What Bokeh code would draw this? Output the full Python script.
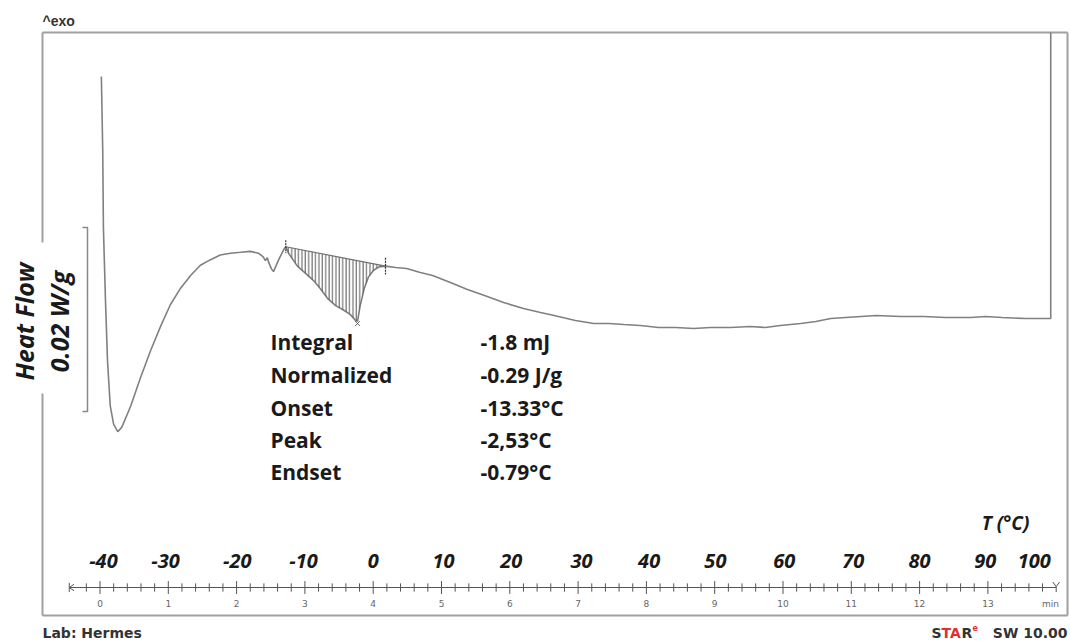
import numpy as np
from bokeh.plotting import figure
from bokeh.models import Range1d
from bokeh.core.properties import value
from bokeh.embed import file_html
from bokeh.resources import INLINE

# ---------------- data ----------------
time_min = [0.02, 0.04, 0.05, 0.08, 0.11, 0.15, 0.20, 0.26, 0.32, 0.45, 0.59, 0.74,
            0.89, 1.03, 1.18, 1.33, 1.47, 1.62, 1.76, 1.91, 2.06, 2.20, 2.32, 2.39,
            2.42, 2.45, 2.47, 2.51, 2.54, 2.61, 2.69, 2.72,
            2.76, 2.89, 3.01, 3.13, 3.23, 3.33, 3.45, 3.57, 3.67, 3.74, 3.77,
            3.81, 3.87, 3.93, 4.00, 4.08, 4.18,
            4.33, 4.49, 4.69, 4.87, 5.13, 5.38, 5.63, 5.91, 6.20, 6.45, 6.65, 6.96,
            7.23, 7.45, 7.67, 7.91, 8.18, 8.43, 8.69, 8.94, 9.23, 9.52, 9.74, 9.96,
            10.26, 10.48, 10.70, 10.92, 11.14, 11.37, 11.72, 12.06, 12.38, 12.75,
            12.97, 13.21, 13.55, 13.92, 13.92]
heat_flow_mWg = [27.6, 19.6, 11.2, 3.3, -3.3, -8.2, -10.2, -11.0, -10.5, -8.2, -5.2, -2.2,
                 0.5, 2.8, 4.6, 6.0, 7.1, 7.7, 8.2, 8.4, 8.5, 8.6, 8.4, 8.0,
                 7.6, 7.9, 7.4, 6.7, 6.4, 7.6, 8.8, 9.1,
                 8.4, 7.0, 6.2, 5.4, 4.5, 3.5, 2.7, 2.2, 1.7, 1.1, 1.0,
                 2.7, 4.6, 5.8, 6.5, 6.9, 7.0,
                 6.85, 6.74, 6.30, 5.98, 5.22, 4.46, 3.80, 3.04, 2.39, 1.96, 1.63, 1.09,
                 0.76, 0.76, 0.65, 0.54, 0.33, 0.33, 0.22, 0.33, 0.33, 0.43, 0.33, 0.54,
                 0.76, 0.98, 1.30, 1.41, 1.52, 1.63, 1.52, 1.52, 1.41, 1.41,
                 1.52, 1.41, 1.30, 1.30, 32.4]
onset_idx = 31
peak_idx = 42
endset_idx = 48

scale_bar_mWg = 20          # 0.02 W/g
scale_bar_top = 11.2

result_names = ["Integral", "Normalized", "Onset", "Peak", "Endset"]
result_values = ["-1.8 mJ", "-0.29 J/g", "-13.33°C", "-2,53°C", "-0.79°C"]

temp_labels = ["-40", "-30", "-20", "-10", "0", "10", "20", "30", "40", "50",
               "60", "70", "80", "90", "100"]
temp_label_time = [0.05, 0.96, 2.01, 2.98, 4.00, 5.03, 6.02, 7.05, 8.04, 9.01,
                   10.02, 11.03, 12.00, 12.96, 13.68]

time_ticks = list(range(0, 14))
time_tick_labels = [str(t) for t in time_ticks]

# ---------------- geometry ----------------
W, H = 1070, 642
PX_PER_MIN = 68.3
PX_PER_UNIT = 9.2
X0 = -99.5 / PX_PER_MIN
Y0 = (330 - H) / PX_PER_UNIT


def tx(page_x):
    return X0 + page_x / PX_PER_MIN


def ty(page_y):
    return Y0 + (H - page_y) / PX_PER_UNIT


p = figure(width=W, height=H, output_backend="svg", toolbar_location=None,
           x_range=Range1d(X0, X0 + W / PX_PER_MIN),
           y_range=Range1d(Y0, Y0 + H / PX_PER_UNIT),
           x_axis_location=None, y_axis_location=None, min_border=0)
p.grid.visible = False
p.outline_line_color = None
p.background_fill_color = "white"
p.border_fill_color = "white"

frame_col = "#a0a0a0"
L, R, T, B = tx(42), tx(1067), ty(32), ty(615)
p.multi_line(xs=[[L, R], [R, R], [R, L], [L, L], [L, L]],
             ys=[[T, T], [T, B], [B, B], [B, ty(393)], [ty(242), T]],
             line_color=frame_col, line_width=2)

# curve
p.line(time_min, heat_flow_mWg, line_color="#808080", line_width=1.6)

# hatched integration area
px_ = time_min[onset_idx:endset_idx + 1]
py_ = heat_flow_mWg[onset_idx:endset_idx + 1]
p.patch(px_, py_, fill_color=None, line_color=None,
        hatch_pattern="vertical_line", hatch_color="#555555",
        hatch_scale=3.4, hatch_weight=1)
p.line([time_min[onset_idx], time_min[endset_idx]],
       [heat_flow_mWg[onset_idx], heat_flow_mWg[endset_idx]],
       line_color="#707070", line_width=1.2)

# markers
to, vo = time_min[onset_idx], heat_flow_mWg[onset_idx]
te, ve = time_min[endset_idx], heat_flow_mWg[endset_idx]
p.segment([to, te], [vo + 0.7, ve + 0.9], [to, te], [vo - 0.7, ve - 0.9],
          line_color="#333333", line_width=1.2, line_dash="2 1")
p.scatter([time_min[peak_idx]], [heat_flow_mWg[peak_idx] - 0.25], marker="x",
          size=7, line_color="#666666", line_width=1)

# scale bar bracket
sb_x, sb_tick = tx(87), tx(82)
p.multi_line(xs=[[sb_tick, sb_x, sb_x, sb_tick]],
             ys=[[scale_bar_top, scale_bar_top, scale_bar_top - scale_bar_mWg,
                  scale_bar_top - scale_bar_mWg]],
             line_color="#888888", line_width=1.5)

p.text([tx(23)], [ty(321)], text=["Heat Flow"], angle=np.pi / 2,
       text_font=value("Open Sans"), text_font_style="bold italic",
       text_font_size="25px", text_color="#1a1a1a",
       text_align="center", text_baseline="middle")
p.text([tx(58)], [ty(321)], text=["0.02 W/g"], angle=np.pi / 2,
       text_font=value("Open Sans"), text_font_style="bold italic",
       text_font_size="25px", text_color="#1a1a1a",
       text_align="center", text_baseline="middle")

# results table
row_y = [ty(y) for y in (341, 374, 407, 439, 471)]
p.text([tx(270)] * 5, row_y, text=result_names,
       text_font=value("Open Sans"), text_font_style="bold",
       text_font_size="21px", text_color="#1a1a1a",
       text_align="left", text_baseline="middle")
p.text([tx(480)] * 5, row_y, text=result_values,
       text_font=value("Open Sans"), text_font_style="bold",
       text_font_size="21px", text_color="#1a1a1a",
       text_align="left", text_baseline="middle")

# temperature labels
p.text(temp_label_time, [ty(560)] * len(temp_labels), text=temp_labels,
       text_font=value("Open Sans"), text_font_style="bold italic",
       text_font_size="20px", text_color="#1a1a1a",
       text_align="center", text_baseline="middle")
p.text([tx(1005)], [ty(522)], text=["T (°C)"],
       text_font=value("Open Sans"), text_font_style="bold italic",
       text_font_size="19px", text_color="#1a1a1a",
       text_align="center", text_baseline="middle")

# time axis
ax_y = ty(587)
ax_col = "#555555"
p.line([-0.45, 14.0], [ax_y, ax_y], line_color=ax_col, line_width=1)
minor = np.round(np.arange(-0.2, 13.81, 0.2), 2)
minor = [m for m in minor if abs(m - round(m)) > 1e-6]
p.segment(minor, [ax_y + 0.45] * len(minor), minor, [ax_y - 0.45] * len(minor),
          line_color=ax_col, line_width=1)
p.segment(time_ticks, [ax_y + 0.7] * len(time_ticks), time_ticks,
          [ax_y - 0.7] * len(time_ticks), line_color=ax_col, line_width=1)
# axis end glyphs
p.multi_line(xs=[[-0.38, -0.45, -0.38], [-0.45, -0.45],
                 [13.95, 14.0, 14.05], [14.0, 14.0]],
             ys=[[ax_y + 0.35, ax_y, ax_y - 0.35], [ax_y + 0.5, ax_y - 0.5],
                 [ax_y + 0.6, ax_y + 0.1, ax_y + 0.6], [ax_y + 0.1, ax_y - 0.5]],
             line_color=ax_col, line_width=1)
p.text(time_ticks, [ty(603)] * len(time_ticks), text=time_tick_labels,
       text_font=value("DejaVu Sans"), text_font_size="9px", text_color="#666666",
       text_align="center", text_baseline="middle")
p.text([tx(1050)], [ty(603)], text=["min"],
       text_font=value("DejaVu Sans"), text_font_size="9px", text_color="#666666",
       text_align="center", text_baseline="middle")

# header / footer
p.text([tx(42)], [ty(20)], text=["^exo"], text_font=value("Liberation Sans"),
       text_font_style="bold", text_font_size="14px", text_color="#333333",
       text_align="left", text_baseline="middle")
foot_y = ty(632)
foot = dict(text_font=value("DejaVu Sans"), text_font_style="bold",
            text_font_size="14px", text_baseline="middle")
p.text([tx(42)], [foot_y], text=["Lab: Hermes"], text_color="#333333",
       text_align="left", **foot)
p.text([tx(1067)], [foot_y], text=["SW 10.00"], text_color="#333333",
       text_align="right", **foot)
p.text([tx(931)], [foot_y], text=["S"], text_color="#333333", text_align="left", **foot)
p.text([tx(941)], [foot_y], text=["TA"], text_color="#e03030", text_align="left", **foot)
p.text([tx(961)], [foot_y], text=["R"], text_color="#333333", text_align="left", **foot)
p.text([tx(972)], [ty(627)], text=["e"], text_color="#e03030", text_align="left",
       text_font=value("DejaVu Sans"), text_font_style="bold",
       text_font_size="8px", text_baseline="middle")

open("out.html", "w").write(file_html(p, INLINE))
